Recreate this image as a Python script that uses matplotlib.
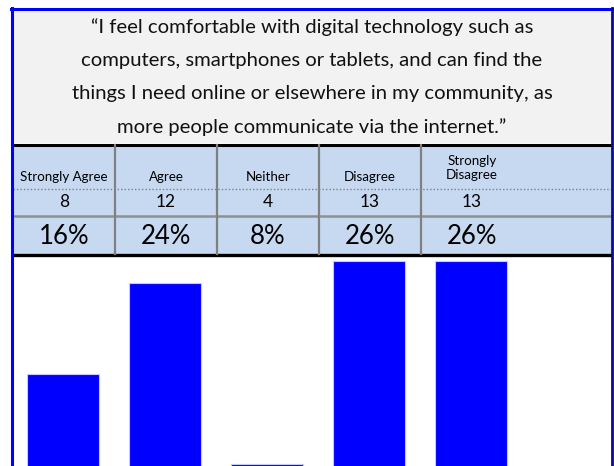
import matplotlib
matplotlib.use("Agg")
import matplotlib.pyplot as plt
from matplotlib.patches import Rectangle

question = ["\u201cI feel comfortable with digital technology such as",
            "computers, smartphones or tablets, and can find the",
            "things I need online or elsewhere in my community, as",
            "more people communicate via the internet.\u201d"]
categories = ["Strongly Agree", "Agree", "Neither", "Disagree", "Strongly\nDisagree"]
counts = [8, 12, 4, 13, 13]
percents = [16, 24, 8, 26, 26]

plt.rcParams['font.family'] = ['Lato', 'DejaVu Sans']

W, H = 614, 466
fig = plt.figure(figsize=(W / 100, H / 100), dpi=100)
fig.patch.set_facecolor('white')

# background axes in pixel coordinates for the table part
bg = fig.add_axes([0, 0, 1, 1])
bg.set_xlim(0, W)
bg.set_ylim(H, 0)
bg.axis('off')

left, right = 13, 611
colw = 102
tbl_blue = '#c6d9f1'

# header box
bg.add_patch(Rectangle((left, 10), right - left, 133, facecolor='#f2f2f2', edgecolor='none'))
for i, line in enumerate(question):
    bg.text(312, 27 + i * 33.3, line, ha='center', va='center', fontsize=14.6, color='#111111')

# table body
bg.add_patch(Rectangle((left, 145), right - left, 110, facecolor=tbl_blue, edgecolor='none'))
bg.plot([left, right], [144.5, 144.5], color='black', lw=2.2)
bg.plot([left, right], [254.5, 254.5], color='black', lw=2.4)
bg.plot([left, right], [188.5, 188.5], color='#808080', lw=1.0, ls=(0, (1, 1.5)))
bg.plot([left, right], [215.5, 215.5], color='#909090', lw=1.8)
for k in range(1, 5):
    x = left + k * colw
    bg.plot([x, x], [145, 254], color='#808080', lw=1.6)

for i, (c, n, p) in enumerate(zip(categories, counts, percents)):
    cx = left + colw * (i + 0.5)
    if '\n' in c:
        bg.text(cx, 168, c, ha='center', va='center', fontsize=9.6, linespacing=1.25)
    else:
        bg.text(cx, 177, c, ha='center', va='center', fontsize=9.6)
    bg.text(cx, 202, str(n), ha='center', va='center', fontsize=12.5)
    bg.text(cx, 236.5, f'{p}%', ha='center', va='center', fontsize=18.5)

# borders
bg.plot([12, 12], [8, H], color='#0000ff', lw=2.2)
bg.plot([11, 613], [9, 9], color='#0000ff', lw=2.2)
bg.plot([612, 612], [8, H], color='#0a0a8a', lw=2.0)

# bar chart
ax = fig.add_axes([left / W, 0, (right - left) / W, (H - 256) / H])
ax.bar(range(len(percents)), percents, width=0.706, color='#0000ff',
       edgecolor='#c8c8ff', linewidth=0.8)
ax.set_xlim(-0.49, 5.373)
ax.set_ylim(7.82, 26.4)
ax.axis('off')

fig.savefig('out.png', dpi=100)
